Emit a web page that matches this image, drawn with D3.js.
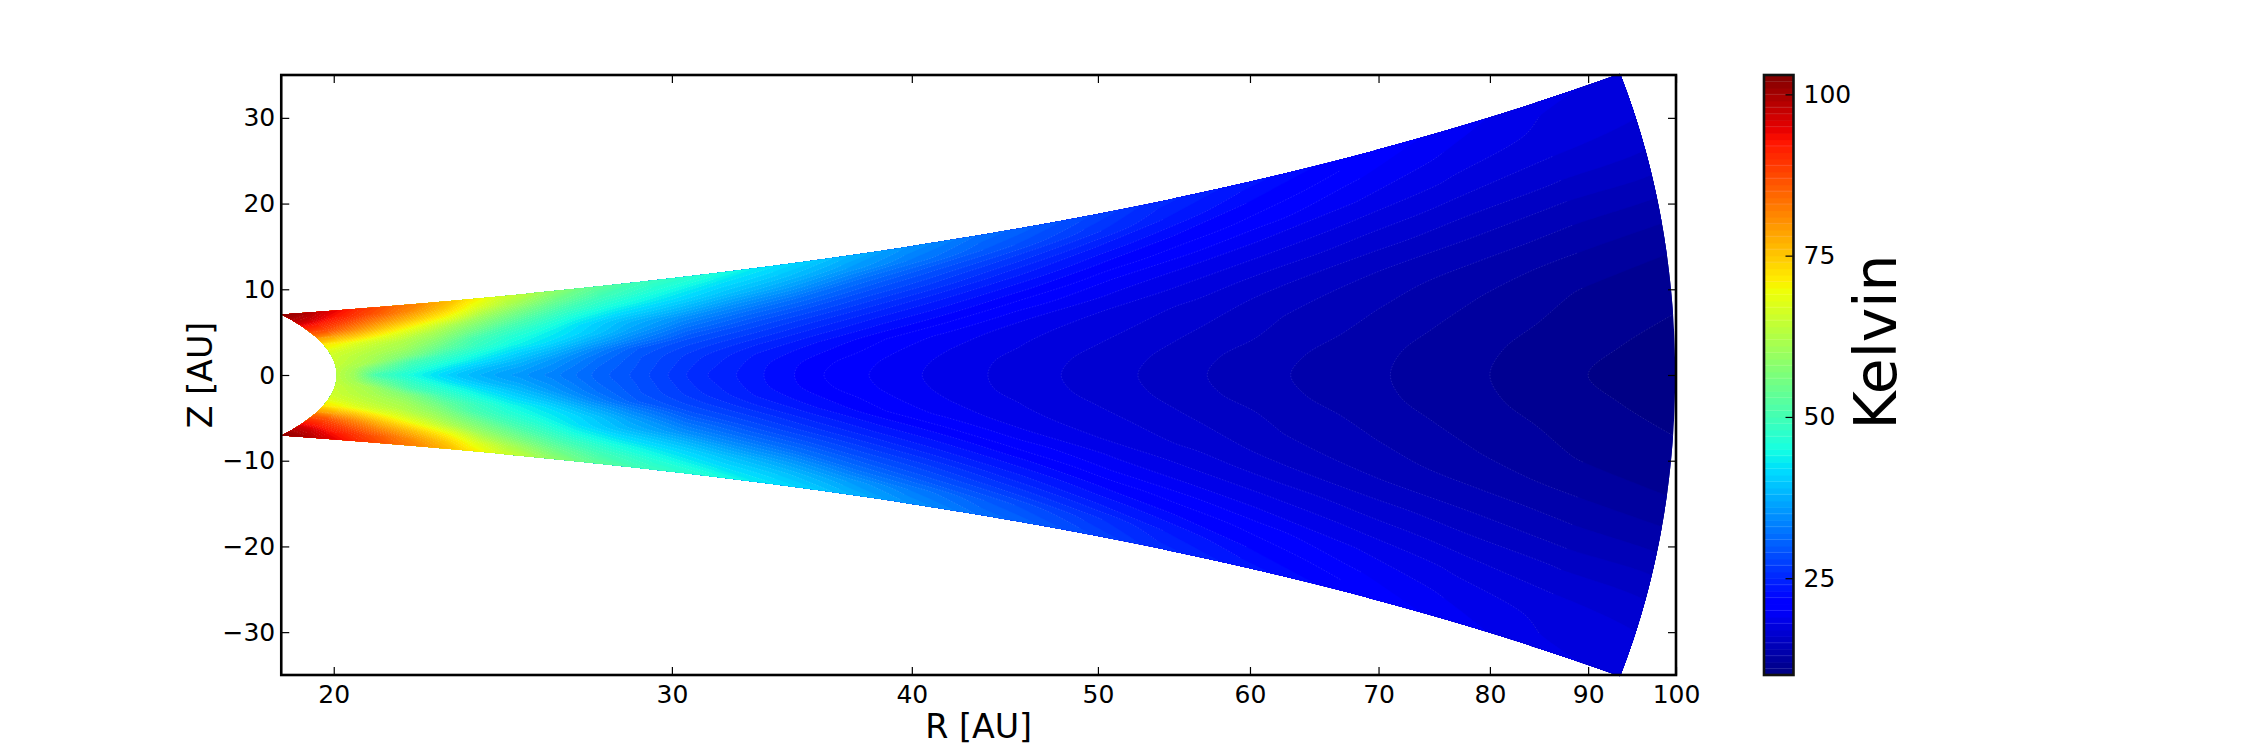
<!DOCTYPE html>
<html>
<head>
<meta charset="utf-8">
<script src="https://cdnjs.cloudflare.com/ajax/libs/d3/7.8.5/d3.min.js"></script>
<style>
html,body{margin:0;padding:0;background:#fff;}
svg{display:block;}
text{font-family:"DejaVu Sans";fill:#000;}
</style>
</head>
<body>
<svg id="chart" width="2250" height="750"></svg>
<script>
// --- values ---
const xTicks = [20,30,40,50,60,70,80,90,100];
const yTicks = [-30,-20,-10,0,10,20,30];
const cbarTicks = [25,50,75,100];
const xLabel = "R [AU]";
const yLabel = "Z [AU]";
const cbarLabel = "Kelvin";
// radius of each table row (AU)
const radii = [20,20.5,21,22,23,24,25,26,27.5,29,31,33.5,36,39,42,46,52,57,63,71,80,90,100];
// angular position of each table column, as a fraction of the wedge half-opening
const openings = [0,.1,.2,.3,.4,.5,.6,.7,.8,.9,1];
// temperature (K) estimated at each radius (rows) and opening (columns); the disc is mirror-symmetric about Z=0
const temperature = [
[66,66.2,66.6,67,69,73,80,88,95,100,103],
[60,61,63,64,66,70,77,86,91,97,101],
[51,55,60.5,62,64,67,74.5,82,88,93,98],
[45,47.5,50.5,57,60.5,63,68,74.5,81,87,91],
[40.5,42.5,46,49.5,54,58,62,68,75,81,85],
[37.5,39,42,45,48.5,51,56,61,69,75,80],
[35.5,36.8,39,41.5,44.5,47,50.5,55.5,61,68,74],
[33.5,34.5,36,38.8,42,44,47,51,56,62,68],
[30.5,31,32,34,37.5,40.5,42,45.5,50,55,61],
[28.3,28.6,29,30,33.5,36.5,38.5,42,46,50,55],
[25.3,25.7,26.3,27.5,29.2,32,35,39,42.5,46,50],
[23,23.15,23.7,25,26.8,28.8,31.5,35,39,42,47],
[21,21.2,22,23,24.6,26.5,29,32,36,39.5,43],
[19.5,19.7,20.2,21,22.6,24.3,26.5,29,32,36,39.5],
[18.5,18.6,19,19.6,21,22.7,24.5,27,29.5,33,36],
[17.4,17.5,17.9,18.3,19.2,20.7,22.5,24.5,27,30,32.5],
[16.1,16.25,16.6,17.1,17.6,18.7,20,21.8,23.8,26.5,29],
[15,15.15,15.6,16.1,16.7,17.6,18.7,20.3,22,24,26],
[14,14.15,14.6,14.95,15.5,16.4,17.6,18.9,20.5,22,24],
[13,13.1,13.45,13.9,14.4,15.2,16.4,17.6,19,20.2,22],
[12,12.12,12.4,12.85,13.4,14.35,15.4,16.6,17.8,18.8,20],
[11,11.2,11.6,11.9,12.6,13.55,14.6,15.9,17,17.8,18.3],
[10.4,10.6,10.95,11.45,12,13,14.1,15.4,16.5,17.3,17.8]
];
const levelMin = 10, levelMax = 103;
const levels = d3.range(levelMin, levelMax);
// colourbar levels at which a faint seam is visible
const cbarSeams = [11,13,15,18,20,22,24,27,29,31,33,35,38,40,42,44,47,49,51,53,56,58,60,62,65,67,69,71,74,76,78,80,83,85,87,89,92,95,97,98,100,102];

// --- layout ---
const plot = {l:281.25, r:1676, t:75, b:675};
const cbar = {l:1764, r:1793.5, t:75, b:675};
const innerR = 20.07, outerR = 99.9, maxAngleDeg = 20.6;

const x = d3.scaleLog().domain([18.78,100]).range([plot.l,plot.r]);
const y = d3.scaleLinear().domain([-35,35]).range([plot.b,plot.t]);
const c = d3.scaleLinear().domain([levelMin,levelMax]).range([cbar.b,cbar.t]);

// matplotlib "jet"
const jetR = d3.scaleLinear().domain([0,.35,.66,.89,1]).range([0,0,1,1,.5]).clamp(true);
const jetG = d3.scaleLinear().domain([0,.125,.375,.64,.91,1]).range([0,0,1,1,0,0]).clamp(true);
const jetB = d3.scaleLinear().domain([0,.11,.34,.65,1]).range([.5,1,1,0,0]).clamp(true);
const jet = v => d3.rgb(jetR(v)*255, jetG(v)*255, jetB(v)*255).formatHex();
const levelColor = L => jet((L + .5 - levelMin)/(levelMax - levelMin));

const svg = d3.select("#chart");
const defs = svg.append("defs");
const maxA = maxAngleDeg*Math.PI/180;

// true outline of the wedge
const toXY = (r,u) => [x(r*Math.cos(u*maxA)), y(r*Math.sin(u*maxA))];
const outline = [];
const frac = d3.range(-1,1.0001,.01);
frac.forEach(u => outline.push(toXY(outerR,u)));
d3.range(outerR,innerR,-0.25).forEach(r => outline.push(toXY(r,1)));
frac.slice().reverse().forEach(u => outline.push(toXY(innerR,u)));
d3.range(innerR,outerR,0.25).forEach(r => outline.push(toXY(r,-1)));
defs.append("clipPath").attr("id","wedge").append("path").attr("d", d3.line()(outline)+"Z");

// table mirrored about the mid-plane, flattened for d3.contours
const uAll = openings.slice(1).reverse().map(u=>-u).concat(openings);
const nu = uAll.length, nr = radii.length;
const flat = [];
temperature.forEach(row => {
  const full = row.slice(1).reverse().concat(row);
  full.forEach(v => flat.push(v));
});
// grid index -> polar coordinates; end nodes overscan slightly, the wedge clip trims them
const rDraw = radii.slice(); rDraw[0] = 19.8; rDraw[nr-1] = 101;
const uDraw = uAll.slice(); uDraw[0] = -1.02; uDraw[nu-1] = 1.02;
const rIdx = d3.scaleLinear().domain(d3.range(nr)).range(rDraw).clamp(true);
const uIdx = d3.scaleLinear().domain(d3.range(nu)).range(uDraw).clamp(true);
const project = ([gx,gy]) => toXY(rIdx(gy-.5), uIdx(gx-.5));
const isEdge = ([gx,gy]) => gx<=0.5 || gx>=nu-.5 || gy<=0.5 || gy>=nr-.5;

const contours = d3.contours().size([nu,nr]).smooth(true).thresholds(levels)(flat);

const closedLine = d3.line().curve(d3.curveCatmullRomClosed.alpha(.5));
const openLine = d3.line().curve(d3.curveCatmullRom.alpha(.5));

const field = svg.append("g").attr("clip-path","url(#wedge)");
const fillPath = mp => mp.coordinates.map(poly => poly.map(ring =>
  closedLine(ring.slice(0,-1).map(project))).join("")).join("");
const seamPath = mp => {
  let d = "";
  mp.coordinates.forEach(poly => poly.forEach(ring => {
    let run = [];
    const flush = () => { if (run.length>1) d += openLine(run.map(project)); run = []; };
    ring.forEach(p => { if (isEdge(p)) flush(); else run.push(p); });
    flush();
  }));
  return d;
};
field.selectAll("path.band").data(contours).join("path").attr("class","band")
  .attr("d",fillPath)
  .attr("fill",d=>levelColor(d.value))
  .attr("stroke",d=>levelColor(d.value)).attr("stroke-width",.4);
field.selectAll("path.seam").data(contours.filter(d=>d.value>levelMin)).join("path").attr("class","seam")
  .attr("d",seamPath)
  .attr("fill","none").attr("stroke","#fff").attr("stroke-opacity",.17)
  .attr("stroke-width",.7).attr("stroke-dasharray","1.5 1.5");

// axes
const tickFont = 25;
const styleAxis = g => {
  g.select(".domain").remove();
  g.selectAll(".tick line").attr("stroke","#000").attr("stroke-width",1.2);
  g.selectAll(".tick text").attr("font-size",tickFont).attr("font-family","DejaVu Sans");
};
const fmt = d => String(d).replace("-","\u2212");
svg.append("g").attr("transform",`translate(0,${plot.b})`)
  .call(d3.axisBottom(x).tickValues(xTicks).tickFormat(fmt).tickSizeInner(-8).tickSizeOuter(0).tickPadding(10))
  .call(styleAxis);
svg.append("g").attr("transform",`translate(0,${plot.t})`)
  .call(d3.axisTop(x).tickValues(xTicks).tickFormat("").tickSizeInner(-8).tickSizeOuter(0))
  .call(styleAxis);
svg.append("g").attr("transform",`translate(${plot.l},0)`)
  .call(d3.axisLeft(y).tickValues(yTicks).tickFormat(fmt).tickSizeInner(-8).tickSizeOuter(0).tickPadding(6))
  .call(styleAxis);
svg.append("g").attr("transform",`translate(${plot.r},0)`)
  .call(d3.axisRight(y).tickValues(yTicks).tickFormat("").tickSizeInner(-8).tickSizeOuter(0))
  .call(styleAxis);
svg.append("rect").attr("x",plot.l).attr("y",plot.t).attr("width",plot.r-plot.l).attr("height",plot.b-plot.t)
  .attr("fill","none").attr("stroke","#000").attr("stroke-width",2.6);

svg.append("text").attr("x",(plot.l+plot.r)/2).attr("y",738).attr("text-anchor","middle")
  .attr("font-size",33.3).text(xLabel);
svg.append("text").attr("transform",`translate(212,${(plot.t+plot.b)/2}) rotate(-90)`).attr("text-anchor","middle")
  .attr("font-size",33.3).text(yLabel);

// colourbar
const bar = svg.append("g");
bar.selectAll("rect").data(levels).join("rect")
  .attr("x",cbar.l).attr("width",cbar.r-cbar.l)
  .attr("y",d=>c(d+1)).attr("height",d=>c(d)-c(d+1)+.6)
  .attr("fill",levelColor);
bar.selectAll("line.seam").data(cbarSeams).join("line").attr("class","seam")
  .attr("x1",cbar.l).attr("x2",cbar.r).attr("y1",d=>c(d)).attr("y2",d=>c(d))
  .attr("stroke","#fff").attr("stroke-opacity",.18).attr("stroke-width",.8);
svg.append("g").attr("transform",`translate(${cbar.r},0)`)
  .call(d3.axisRight(c).tickValues(cbarTicks).tickSizeInner(-8).tickSizeOuter(0).tickPadding(10))
  .call(styleAxis);
svg.append("rect").attr("x",cbar.l).attr("y",cbar.t).attr("width",cbar.r-cbar.l).attr("height",cbar.b-cbar.t)
  .attr("fill","none").attr("stroke","#111").attr("stroke-width",2.6);
svg.append("text").attr("transform",`translate(1896,${(cbar.t+cbar.b)/2-33}) rotate(-90)`).attr("text-anchor","middle")
  .attr("font-size",58.3).text(cbarLabel);
</script>
</body>
</html>
